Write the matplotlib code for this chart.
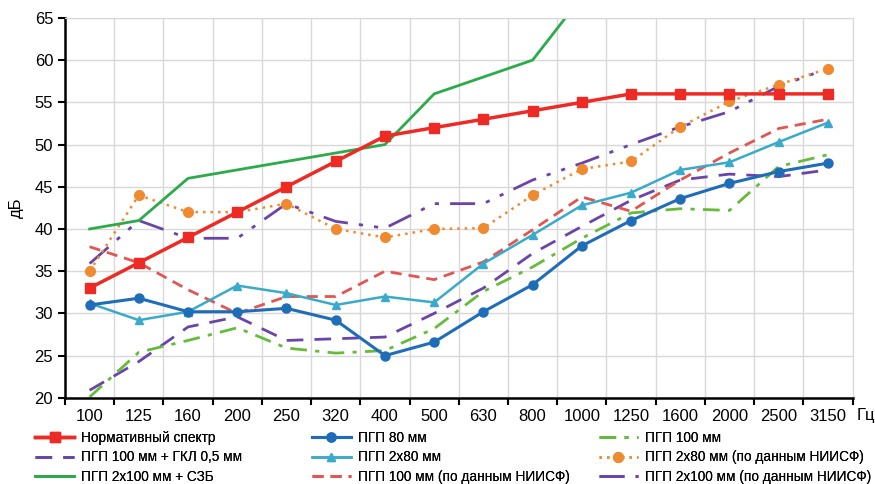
import numpy as np
import matplotlib
matplotlib.use("Agg")
import matplotlib.pyplot as plt
from matplotlib import font_manager

# pick a narrow font if present
fams = [f.name for f in font_manager.fontManager.ttflist]
if "Liberation Sans Narrow" in fams:
    plt.rcParams['font.family'] = ['Liberation Sans Narrow', 'DejaVu Sans']
else:
    plt.rcParams['font.family'] = ['Liberation Sans', 'DejaVu Sans']

freqs = ["100", "125", "160", "200", "250", "320", "400", "500",
         "630", "800", "1000", "1250", "1600", "2000", "2500", "3150"]

norm_spectrum = [33, 36, 39, 42, 45, 48, 51, 52, 53, 54, 55, 56, 56, 56, 56, 56]
pgp80 = [31, 31.8, 30.2, 30.2, 30.6, 29.2, 25, 26.6, 30.2, 33.4, 38, 41, 43.6, 45.4, 46.8, 47.8]
pgp100 = [20.1, 25.4, 26.8, 28.3, 25.9, 25.3, 25.6, 28.2, 32.6, 35.5, 38.9, 41.9, 42.4, 42.2, 47.4, 48.8]
pgp100_gkl = [20.9, 24.3, 28.4, 29.6, 26.8, 27, 27.2, 30, 33, 37.1, 40.3, 43.4, 45.8, 46.5, 46.2, 47]
pgp2x80 = [31.2, 29.2, 30.2, 33.3, 32.4, 31, 32, 31.3, 35.9, 39.3, 42.8, 44.3, 47, 47.9, 50.3, 52.6]
pgp2x80_niisf = [35, 44, 42, 42, 43, 40, 39, 40, 40.1, 44, 47.1, 48, 52.1, 55.1, 57.1, 59]
pgp2x100_szb = [40, 41, 46, 47, 48, 49, 50, 56, 58, 60, 67.5, 70, 72, 73, 74, 75]
pgp100_niisf = [37.9, 36, 32.8, 30, 32, 32, 35, 34, 36.1, 39.9, 43.8, 42.1, 45.8, 49, 51.9, 53]
pgp2x100_niisf = [35.9, 41, 38.9, 38.9, 43, 40.9, 40.1, 43, 43, 45.8, 47.8, 50, 52.1, 53.9, 56.9, 59]

x = np.arange(len(freqs))

fig = plt.figure(figsize=(8.75, 4.84), dpi=100)
ax = fig.add_axes([0.0743, 0.178, 0.9, 0.785])

# series drawn bottom first
h_gkl, = ax.plot(x, pgp100_gkl, color="#6a45a8", lw=2, dashes=(6, 4), label="ПГП 100 мм + ГКЛ 0,5 мм")
h_100, = ax.plot(x, pgp100, color="#66bb3a", lw=2, dashes=(6, 3, 1.5, 3), label="ПГП 100 мм")
h_100n, = ax.plot(x, pgp100_niisf, color="#e25550", lw=2, dashes=(4, 2.5), label="ПГП 100 мм (по данным НИИСФ)")
h_2x100n, = ax.plot(x, pgp2x100_niisf, color="#6a45a8", lw=2, dashes=(9, 4, 1.5, 4, 1.5, 4), label="ПГП 2x100 мм (по данным НИИСФ)")
h_2x80n, = ax.plot(x, pgp2x80_niisf, color="#f08a30", lw=1.8, ls=(0, (1, 2)), marker="o", ms=7, label="ПГП 2x80 мм (по данным НИИСФ)")
h_szb, = ax.plot(x, pgp2x100_szb, color="#2bab4a", lw=2, label="ПГП 2x100 мм + СЗБ")
h_2x80, = ax.plot(x, pgp2x80, color="#3aaacb", lw=1.8, marker="^", ms=6, label="ПГП 2x80 мм")
h_80, = ax.plot(x, pgp80, color="#1f6db8", lw=2.2, marker="o", ms=6.5, label="ПГП 80 мм")
h_norm, = ax.plot(x, norm_spectrum, color="#ee2a24", lw=2.5, marker="s", ms=7, label="Нормативный спектр")

ax.set_xlim(-0.5, len(freqs) - 0.5)
ax.set_ylim(20, 65)
ax.set_yticks(np.arange(20, 66, 5))
ax.set_xticks(x)
ax.set_xticklabels(freqs)
ax.set_xticks(np.arange(-0.5, len(freqs)), minor=True)
ax.tick_params(axis="x", which="major", length=0, labelsize=12, pad=8)
ax.tick_params(axis="x", which="minor", length=5, width=1.5, direction="out")
ax.tick_params(axis="y", length=5, width=1.5, labelsize=12)
ax.grid(which="minor", axis="x", color="#d8d8d8", lw=1)
ax.grid(which="major", axis="y", color="#d8d8d8", lw=1)
ax.set_axisbelow(True)
for s in ["top", "right"]:
    ax.spines[s].set_color("#d8d8d8")
for s in ["left", "bottom"]:
    ax.spines[s].set_linewidth(1.8)

ax.set_ylabel("дБ", fontsize=12, labelpad=8)
ax.text(1.005, -0.047, "Гц", transform=ax.transAxes, fontsize=12, va="center", ha="left")

# legend in three columns, placed one by one
columns = [([h_norm, h_gkl, h_szb], 0.04),
           ([h_80, h_2x80, h_100n], 0.356),
           ([h_100, h_2x80n, h_2x100n], 0.684)]
for hs, xpos in columns:
    leg = fig.legend(handles=hs, loc="upper left", bbox_to_anchor=(xpos, 0.11),
                     frameon=False, fontsize=9.8, handlelength=2.9,
                     labelspacing=0.42, handletextpad=0.5, borderaxespad=0, borderpad=0)
    fig.add_artist(leg)

fig.savefig("out.png", dpi=100)
